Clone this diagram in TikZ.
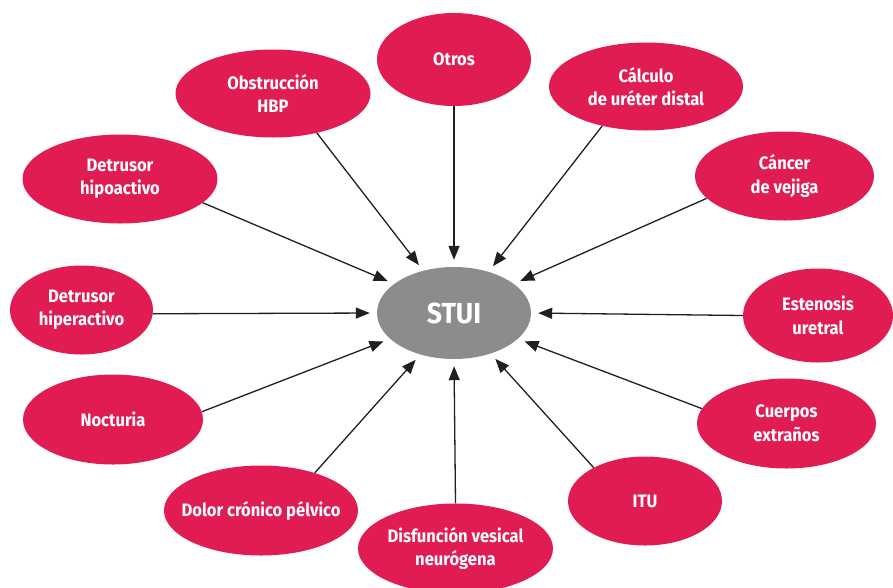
\documentclass[tikz,border=0pt]{standalone}
\usepackage{fontspec}
\setmainfont{Fira Sans}[FakeStretch=0.92]
\usetikzlibrary{shapes.geometric,arrows.meta}
\definecolor{crim}{HTML}{E01C52}
\definecolor{stuig}{HTML}{8B8C8E}
\definecolor{arrc}{HTML}{231F20}
\begin{document}
\begin{tikzpicture}[x=1pt,y=-1pt,
  cause/.style={ellipse, fill=crim, text=white, align=center, inner sep=0pt,
    font=\bfseries\fontsize{18}{23.5}\selectfont},
  center/.style={ellipse, fill=stuig, text=white, inner sep=0pt,
    minimum width=154pt, minimum height=92pt,
    font=\bfseries\fontsize{29}{34}\selectfont},
  arr/.style={draw=arrc, line width=1.3pt, shorten >=7pt,
    -{Triangle[length=14pt,width=11pt]}}
]
\useasboundingbox (0,0) rectangle (893,587);
\clip (0,0) rectangle (893,587);

\node[center] (stui) at (454,313) {STUI};

\node[cause, minimum width=154pt, minimum height=93pt] (otros) at (454,59.5) {Otros};
\node[cause, minimum width=195pt, minimum height=88pt] (obst) at (273,93.5) {Obstrucción\\HBP};
\node[cause, minimum width=194pt, minimum height=88pt] (calc) at (646,86.5) {Cálculo\\de uréter distal};
\node[cause, minimum width=195pt, minimum height=89pt] (dhipo) at (120,179) {Detrusor\\hipoactivo};
\node[cause, minimum width=179pt, minimum height=89pt] (canc) at (784.5,176) {Cáncer\\de vejiga};
\node[cause, minimum width=143pt, minimum height=89pt] (dhiper) at (81.5,310) {Detrusor\\hiperactivo};
\node[cause, minimum width=150pt, minimum height=94pt] (esten) at (818,315.5) {Estenosis\\uretral};
\node[cause, minimum width=180pt, minimum height=90pt] (noct) at (113,419.5) {Nocturia};
\node[cause, minimum width=179pt, minimum height=90pt] (cuer) at (786.5,423.5) {Cuerpos\\extraños};
\node[cause, minimum width=194pt, minimum height=90pt] (dolor) at (261,510.5) {\makebox[120pt]{Dolor crónico pélvico}};
\node[cause, minimum width=195pt, minimum height=90pt] (disf) at (455.5,548.5) {Disfunción vesical\\neurógena};
\node[cause, minimum width=154pt, minimum height=89pt] (itu) at (645,501) {ITU};

\draw[arr] (otros.270) -- (stui.90);
\draw[arr] (obst.318) -- (stui.126);
\draw[arr] (calc.222) -- (stui.50);
\draw[arr] (canc.196) -- (stui.26);
\draw[arr] (dhipo.344.5) -- (stui.154.4);
\draw[arr] (dhiper.357.5) -- (stui.180);
\draw[arr] (esten.180) -- (stui.0);
\draw[arr] (noct.5) -- (stui.202);
\draw[arr] (cuer.170) -- (stui.338);
\draw[arr] (dolor.35) -- (stui.231);
\draw[arr] (disf.90) -- (stui.270);
\draw[arr] (itu.147) -- (stui.312);
\end{tikzpicture}
\end{document}
